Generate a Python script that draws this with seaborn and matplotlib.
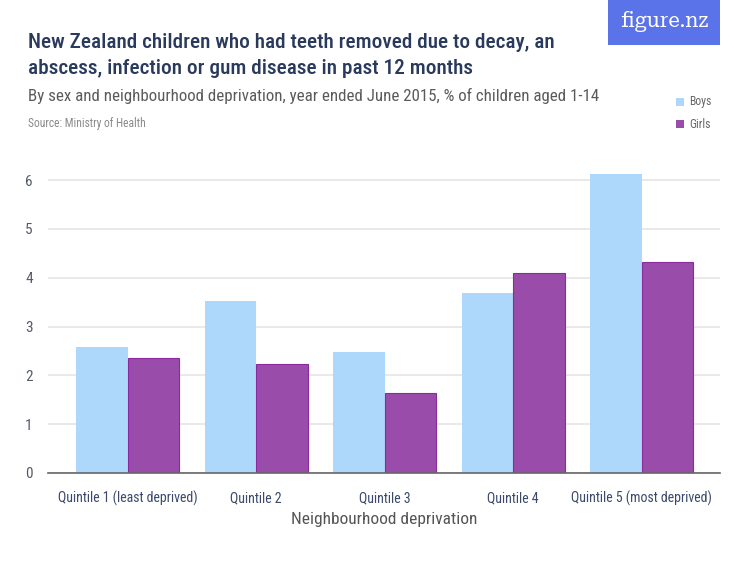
import matplotlib
matplotlib.use("Agg")
import matplotlib.pyplot as plt
import seaborn as sns
import pandas as pd
from matplotlib.patches import Rectangle

categories = ["Quintile 1 (least deprived)", "Quintile 2", "Quintile 3", "Quintile 4", "Quintile 5 (most deprived)"]
boys = [2.59, 3.53, 2.47, 3.68, 6.12]
girls = [2.35, 2.24, 1.64, 4.10, 4.33]
yticks = [0, 1, 2, 3, 4, 5, 6]

df = pd.DataFrame({
    "Neighbourhood deprivation": categories * 2,
    "value": boys + girls,
    "Sex": ["Boys"] * len(categories) + ["Girls"] * len(categories),
})

sns.set_theme(style="white")
FONT = ["Roboto Condensed", "Roboto", "DejaVu Sans"]
plt.rcParams["font.family"] = FONT

fig = plt.figure(figsize=(7.5, 5.63), dpi=100)
ax = fig.add_axes([0.064, 0.16, 0.896, 0.546])

blue = "#aed8fb"
purple = "#994ca9"
sns.barplot(data=df, x="Neighbourhood deprivation", y="value", hue="Sex",
            palette={"Boys": blue, "Girls": purple}, saturation=1, width=0.8,
            ax=ax, legend=False, linewidth=0)
for p in ax.containers[1]:
    p.set_edgecolor("#8a2a9c")
    p.set_linewidth(0.8)

ax.set_ylim(0, 6.3)
ax.set_xlim(-0.62, 4.61)
ax.set_yticks(yticks)
ax.set_yticklabels([str(t) for t in yticks], color="#555b66", fontsize=11)
ax.yaxis.grid(True, color="#e3e3e3", linewidth=1.1)
ax.set_axisbelow(True)
for s in ["top", "right", "left"]:
    ax.spines[s].set_visible(False)
ax.spines["bottom"].set_color("#666666")
ax.spines["bottom"].set_linewidth(1.2)
ax.tick_params(axis="y", length=0, pad=11)
ax.tick_params(axis="x", length=7, width=1, color="#777777", pad=6,
               labelsize=10, labelcolor="#3b4a6b")
ax.set_ylabel("")
ax.set_xlabel("Neighbourhood deprivation", fontsize=12.5, color="#555555", labelpad=4)

# titles
fig.text(0.037, 0.925, "New Zealand children who had teeth removed due to decay, an",
         fontsize=15.3, color="#2a3a5c", va="center", ha="left", weight="medium")
fig.text(0.037, 0.879, "abscess, infection or gum disease in past 12 months",
         fontsize=15.3, color="#2a3a5c", va="center", ha="left", weight="medium")
fig.text(0.037, 0.830, "By sex and neighbourhood deprivation, year ended June 2015, % of children aged 1-14",
         fontsize=12.2, color="#5a5a5a", va="center", ha="left")
fig.text(0.037, 0.781, "Source: Ministry of Health",
         fontsize=8.3, color="#8a8a8a", va="center", ha="left")

# logo
fig.patches.append(Rectangle((608 / 750, 1 - 45 / 563), 112 / 750, 45 / 563,
                             transform=fig.transFigure, facecolor="#5b73e8",
                             edgecolor="none", zorder=0))
fig.text(664 / 750, 1 - 22 / 563, "figure.nz", fontsize=15, color="white",
         family=["Roboto Serif", "DejaVu Serif"], weight="bold", ha="center", va="center")

# legend
for i, (lab, col) in enumerate([("Boys", blue), ("Girls", purple)]):
    yc = 1 - (102 + 22 * i) / 563
    fig.patches.append(Rectangle((676 / 750, yc - 4 / 563), 8 / 750, 8 / 563,
                                 transform=fig.transFigure, facecolor=col,
                                 edgecolor="none"))
    fig.text(689 / 750, yc, lab, fontsize=8.5, color="#666666", va="center", ha="left")

fig.savefig("out.png", dpi=100)
